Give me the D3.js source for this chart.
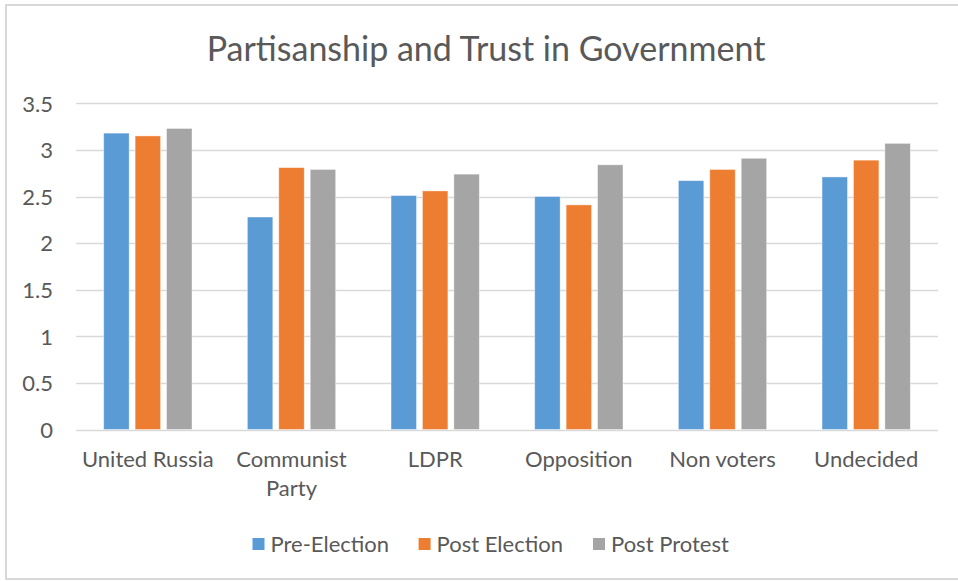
<!DOCTYPE html>
<html>
<head>
<meta charset="utf-8">
<script src="https://cdn.jsdelivr.net/npm/d3@7"></script>
<style>
  body { margin: 0; background: #fff; }
  text { font-family: Lato, "Open Sans", sans-serif; fill: #595959; }
</style>
</head>
<body>
<div id="chart"></div>
<script>
const categories = ["United Russia", "Communist Party", "LDPR", "Opposition", "Non voters", "Undecided"];
const series = ["Pre-Election", "Post Election", "Post Protest"];
const preElection = [3.18, 2.28, 2.51, 2.50, 2.67, 2.71];
const postElection = [3.15, 2.81, 2.56, 2.41, 2.79, 2.89];
const postProtest = [3.23, 2.79, 2.74, 2.84, 2.91, 3.07];
const yTicks = [0, 0.5, 1, 1.5, 2, 2.5, 3, 3.5];
const colors = ["#5b9bd5", "#ed7d31", "#a5a5a5"];

const values = [preElection, postElection, postProtest];

const width = 958, height = 581;
const svg = d3.select("#chart")
  .append("svg")
  .attr("width", width)
  .attr("height", height);

// cadre
svg.append("rect")
  .attr("x", 6).attr("y", 5)
  .attr("width", 960).attr("height", 574)
  .attr("fill", "none")
  .attr("stroke", "#d9d9d9")
  .attr("stroke-width", 2);

// titre
svg.append("text")
  .attr("x", 486)
  .attr("y", 61)
  .attr("text-anchor", "middle")
  .style("font-size", "34px")
  .text("Partisanship and Trust in Government");

// echelles
const x0 = d3.scaleBand()
  .domain(categories)
  .range([76, 938]);

const x1 = d3.scaleBand()
  .domain(series)
  .range([27.7, 116])
  .paddingInner(0.19);

const y = d3.scaleLinear()
  .domain([0, 3.5])
  .range([429.5, 103.3]);

// grille
svg.append("g")
  .selectAll("line")
  .data(yTicks)
  .join("line")
  .attr("x1", 76)
  .attr("x2", 938)
  .attr("y1", d => Math.round(y(d)) + 0.5)
  .attr("y2", d => Math.round(y(d)) + 0.5)
  .attr("stroke", "#d9d9d9")
  .attr("stroke-width", 1.3);

// axe y
const yAxis = d3.axisLeft(y).tickValues(yTicks).tickSize(0).tickPadding(0)
  .tickFormat(d3.format("~g"));
svg.append("g")
  .attr("transform", "translate(53,0)")
  .call(yAxis)
  .call(g => g.select(".domain").remove())
  .selectAll("text")
  .attr("dy", "0.35em")
  .style("font-family", "Lato, 'Open Sans', sans-serif")
  .style("font-size", "22px")
  .attr("fill", "#595959");

// barres
const groups = svg.append("g")
  .selectAll("g")
  .data(series)
  .join("g")
  .attr("fill", (d, i) => colors[i]);

groups.selectAll("rect")
  .data((s, i) => categories.map((c, j) => ({ c, s, v: values[i][j] })))
  .join("rect")
  .attr("x", d => x0(d.c) + x1(d.s))
  .attr("y", d => y(d.v))
  .attr("width", x1.bandwidth())
  .attr("height", d => y(0) - y(d.v))
  .attr("stroke", "#fff")
  .attr("stroke-opacity", 0.5)
  .attr("stroke-width", 0.8);

// axe x (libelles)
const xLabels = svg.append("g")
  .selectAll("text")
  .data(categories)
  .join("text")
  .attr("x", d => x0(d) + x0.bandwidth() / 2)
  .attr("y", 467)
  .attr("text-anchor", "middle")
  .style("font-size", "22px");

xLabels.each(function(d) {
  const t = d3.select(this);
  const parts = d === "Communist Party" ? ["Communist", "Party"] : [d];
  parts.forEach((p, k) => {
    t.append("tspan")
      .attr("x", x0(d) + x0.bandwidth() / 2)
      .attr("dy", k === 0 ? 0 : 29)
      .text(p);
  });
});

// legende
const legendX = [252.5, 418.6, 593];
const legend = svg.append("g")
  .selectAll("g")
  .data(series)
  .join("g")
  .attr("transform", (d, i) => `translate(${legendX[i]}, 538)`);

legend.append("rect")
  .attr("width", 12)
  .attr("height", 12)
  .attr("fill", (d, i) => colors[i]);

legend.append("text")
  .attr("x", 18)
  .attr("y", 6)
  .attr("dy", "0.35em")
  .style("font-size", "22px")
  .text(d => d);
</script>
</body>
</html>
